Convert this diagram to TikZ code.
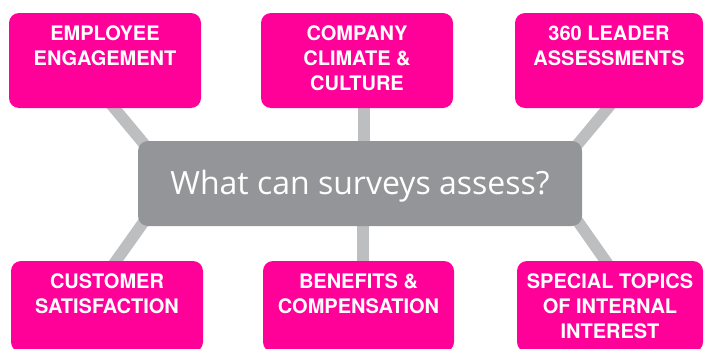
\documentclass[tikz,border=0pt]{standalone}
\usepackage{fontspec}
\setmainfont{TeX Gyre Heros}
\newfontfamily\questfont{Open Sans}
\usetikzlibrary{backgrounds}
\usetikzlibrary{positioning}
\tikzset{topic/.style = {fill=mpink, rounded corners=10pt, minimum width=192pt,
                         minimum height=95pt, inner sep=0pt},
         topictext/.style = {anchor=north, inner sep=0pt, text=white, align=center,
                             font=\bfseries\fontsize{20}{25}\selectfont},
         link/.style = {mline, line width=11.5pt}}
\definecolor{mpink}{RGB}{255, 0, 153}
\definecolor{mgrey}{RGB}{147, 149, 152}
\definecolor{mline}{RGB}{188, 190, 192}

\begin{document}
\begin{tikzpicture}[x=1pt, y=-1pt]
    \clip (0, 0) rectangle (704, 348);

    \node [fill=mgrey, rounded corners=10pt, minimum width=444pt, minimum height=85pt] (quest) at (360, 183.5) {};
    \node [anchor=base, text=white, font=\questfont\fontsize{32}{38}\selectfont] (questtext)
          at ([yshift=-10.5pt]quest.center) {What can surveys assess?};

    % top row
    \node [topic] (emp) at (105, 60.5) {};
    \node [topic] (comp) at (357, 60.5) {};
    \node [topic, minimum width=188pt] (lead) at (609, 60.5) {};
    \node [topictext] (emptext) at ([yshift=-12.5pt]emp.north) {EMPLOYEE\\ENGAGEMENT};
    \node [topictext] (comptext) at ([yshift=-12.5pt]comp.north) {COMPANY\\CLIMATE \&\\CULTURE};
    \node [topictext] (leadtext) at ([yshift=-12.5pt]lead.north) {360 LEADER\\ASSESSMENTS};

    % bottom row
    \node [topic, minimum height=91pt] (cust) at (107, 306.5) {};
    \node [topic, minimum height=91pt, minimum width=191pt] (bene) at (358.5, 306.5) {};
    \node [topic, minimum height=91pt, minimum width=186pt] (spec) at (610, 306.5) {};
    \node [topictext] (custtext) at ([yshift=-12.5pt]cust.north) {CUSTOMER\\SATISFACTION};
    \node [topictext] (benetext) at ([yshift=-12.5pt]bene.north) {BENEFITS \&\\COMPENSATION};
    \node [topictext] (spectext) at ([yshift=-12.5pt]spec.north) {SPECIAL TOPICS\\OF INTERNAL\\INTEREST};

    \begin{scope}[on background layer]
      \draw [link] ([shift={(1, -10)}]emp.south) -- ([shift={(12, 10)}]quest.north west);
      \draw [link] ([shift={(7, -10)}]comp.south) -- ([shift={(4, 10)}]quest.north);
      \draw [link] ([shift={(7, -10)}]lead.south) -- ([shift={(-10, 10)}]quest.north east);
      \draw [link] ([shift={(2, 10)}]cust.north) -- ([shift={(10, -10)}]quest.south west);
      \draw [link] ([shift={(4.5, 10)}]bene.north) -- ([shift={(3, -10)}]quest.south);
      \draw [link] ([shift={(2.5, 10)}]spec.north) -- ([shift={(-8, -10)}]quest.south east);
    \end{scope}
\end{tikzpicture}
\end{document}
